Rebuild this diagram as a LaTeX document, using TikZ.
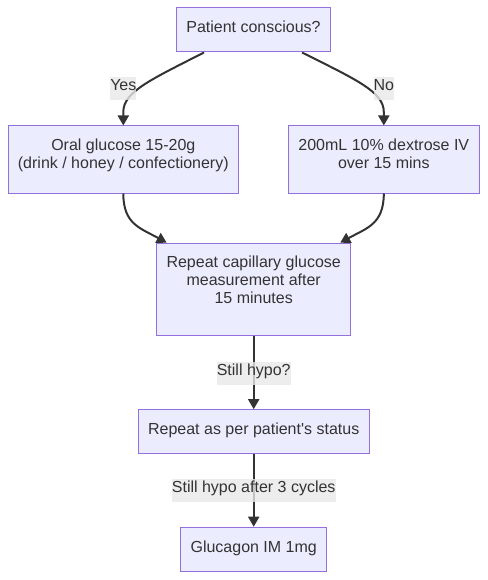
\documentclass[tikz,border=0pt]{standalone}
\usepackage{fontspec}
\setmainfont{Liberation Sans}
\usetikzlibrary{arrows.meta}
\definecolor{mfill}{HTML}{ECECFF}
\definecolor{mborder}{HTML}{9370DB}
\definecolor{mtext}{HTML}{333333}
\definecolor{medge}{HTML}{333333}
\definecolor{mlabel}{HTML}{E8E8E8}
\tikzset{
  box/.style={draw=mborder, fill=mfill, line width=1pt, inner sep=0pt},
  txt/.style={text=mtext, font=\fontsize{16}{18}\selectfont, align=center, inner sep=0pt, anchor=base},
  edge/.style={draw=medge, line width=2pt, -{Triangle[length=10pt,width=11pt]}},
  elabel/.style={fill=mlabel, fill opacity=0.8, text opacity=1, text=mtext, font=\fontsize{16}{18}\selectfont, inner xsep=0pt, inner ysep=0pt, text height=14pt, text depth=9.5pt, anchor=base}
}
\begin{document}
\begin{tikzpicture}[x=1pt,y=-1pt]
\useasboundingbox (0,0) rectangle (487,580);
% boxes
\node[box, minimum width=154pt, minimum height=44pt] (A) at (253.5,30) {};
\node[box, minimum width=230pt, minimum height=67pt] (B) at (123.3,159.5) {};
\node[box, minimum width=191pt, minimum height=67pt] (C) at (383.8,159.5) {};
\node[box, minimum width=194pt, minimum height=92pt] (D) at (253.7,289.2) {};
\node[box, minimum width=231pt, minimum height=44pt] (E) at (253.7,431.7) {};
\node[box, minimum width=146pt, minimum height=44pt] (F) at (253.7,549.2) {};
% texts (base anchor = baseline of last line)
\node[txt] (At) at (253.5,32.5) {Patient conscious?};
\node[txt] (Bt) at (123.3,168.3) {Oral glucose 15-20g\\(drink / honey / confectionery)};
\node[txt] (Ct) at (383.8,168.3) {200mL 10\% dextrose IV\\over 15 mins};
\node[txt] (Dt) at (253.7,303.8) {Repeat capillary glucose\\measurement after\\15 minutes};
\node[txt] (Et) at (253.7,434) {Repeat as per patient\textquotesingle s status};
\node[txt] (Ft) at (253.7,552.5) {Glucagon IM 1mg};
% edges
\draw[edge] ([xshift=-49.5pt]A.south) .. controls (150,80) and (123.3,92) .. (123.3,112) -- (B.north);
\draw[edge] ([xshift=48.5pt]A.south) .. controls (357,80) and (383.8,92) .. (383.8,112) -- (C.north);
\draw[edge] (B.south) .. controls (123.3,224) and (140,228) .. ([xshift=-87pt]D.north);
\draw[edge] (C.south) .. controls (383.8,224) and (367,228) .. ([xshift=86.5pt]D.north);
\draw[edge] (D.south) -- (E.north);
\draw[edge] (E.south) -- (F.north);
% edge labels
\node[elabel] (L1) at (123.3,90.7) {Yes};
\node[elabel] (L2) at (383.8,90.7) {No};
\node[elabel] (L3) at (253.7,375.7) {Still hypo?};
\node[elabel] (L4) at (253.7,492.7) {Still hypo after 3 cycles};
\end{tikzpicture}
\end{document}
